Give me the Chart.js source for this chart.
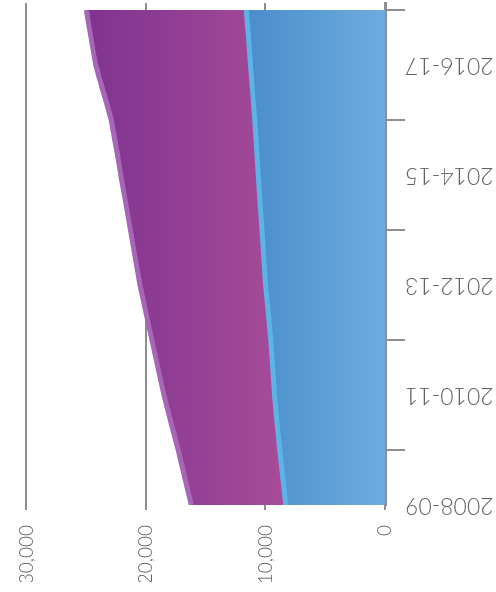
<!DOCTYPE html>
<html>
  <head>
    <meta charset="utf-8">
    <title>chart</title>
    <script src="https://cdn.jsdelivr.net/npm/chart.js@4.4.0/dist/chart.umd.min.js"></script>
    <style>
      body { margin: 0; background: #fff; overflow: hidden; }
      /* chart is drawn upright, then turned a quarter turn left */
      #wrap {
        position: absolute; left: 0; top: 0;
        width: 592px; height: 496px;
        transform-origin: 0 0;
        transform: translate(0, 592px) rotate(-90deg);
      }
    </style>
  </head>
  <body>
  <div id="wrap"><canvas id="myChart" width="592" height="496"></canvas></div>
  <script>
    const years = ['2008-09', '2009-10', '2010-11', '2011-12', '2012-13',
                   '2013-14', '2014-15', '2015-16', '2016-17', '2017-18'];
    const blueVals   = [8300, 8800, 9250, 9550, 10000, 10300, 10600, 10900, 11250, 11600];
    const purpleVals = [7900, 8500, 9250, 9950, 10500, 11000, 11500, 12000, 12950, 13400];
    const valueTicks = [0, 10000, 20000, 30000];

    const gray = '#8e8e92';
    const textGray = '#626262';

    function gradient(ctx, from, to, c1, c2) {
      const chart = ctx.chart;
      if (!chart.chartArea) return c2;
      const y = chart.scales.y;
      const g = chart.ctx.createLinearGradient(0, y.getPixelForValue(from), 0, y.getPixelForValue(to));
      g.addColorStop(0, c1);
      g.addColorStop(1, c2);
      return g;
    }

    new Chart(document.getElementById('myChart'), {
      type: 'line',
      data: {
        datasets: [{
          data: blueVals.map((v, i) => ({x: i, y: v})),
          fill: 'origin',
          backgroundColor: ctx => gradient(ctx, 11600, 0, '#4a8dcb', '#6dacdf'),
          borderColor: '#5bb3e6',
          borderWidth: 5,
          tension: 0.1,
          pointRadius: 0
        }, {
          data: purpleVals.map((v, i) => ({x: i, y: v})),
          fill: '-1',
          backgroundColor: ctx => gradient(ctx, 25000, 9000, '#7f3390', '#a54b98'),
          borderColor: '#a866b6',
          borderWidth: 5,
          tension: 0.1,
          pointRadius: 0
        }]
      },
      options: {
        responsive: false,
        animation: false,
        layout: { padding: { top: 24, right: 3, left: 10, bottom: 0 } },
        plugins: { legend: { display: false }, tooltip: { enabled: false } },
        scales: {
          x: {
            type: 'linear',
            min: 0,
            max: 9.127,
            z: 1,
            afterBuildTicks: s => { s.ticks = years.map((_, i) => ({value: i})); },
            afterFit: s => { s.height = 111; s.paddingLeft = 0; s.paddingRight = 0; },
            ticks: {
              autoSkip: false,
              minRotation: 90,
              maxRotation: 90,
              padding: 0,
              color: textGray,
              font: { family: 'Lato', size: 23, weight: '300' },
              callback: v => (v % 2 === 0 ? years[v] : '')
            },
            grid: {
              drawOnChartArea: false,
              tickLength: 20,
              lineWidth: 2,
              color: c => (c.tick && c.tick.value % 2 === 1 ? gray : 'rgba(0,0,0,0)')
            },
            border: { display: true, color: gray, width: 3 }
          },
          y: {
            stacked: true,
            min: 0,
            max: 30000,
            afterBuildTicks: s => { s.ticks = valueTicks.map(v => ({value: v})); },
            afterFit: s => { s.width = 77; },
            ticks: {
              padding: 15,
              color: textGray,
              font: { family: 'Lato', size: 19, weight: '300' },
              callback: v => v.toLocaleString('en-US')
            },
            grid: { color: gray, lineWidth: 2, tickLength: 5 },
            border: { display: false }
          }
        }
      }
    });
  </script>
  </body>
</html>
